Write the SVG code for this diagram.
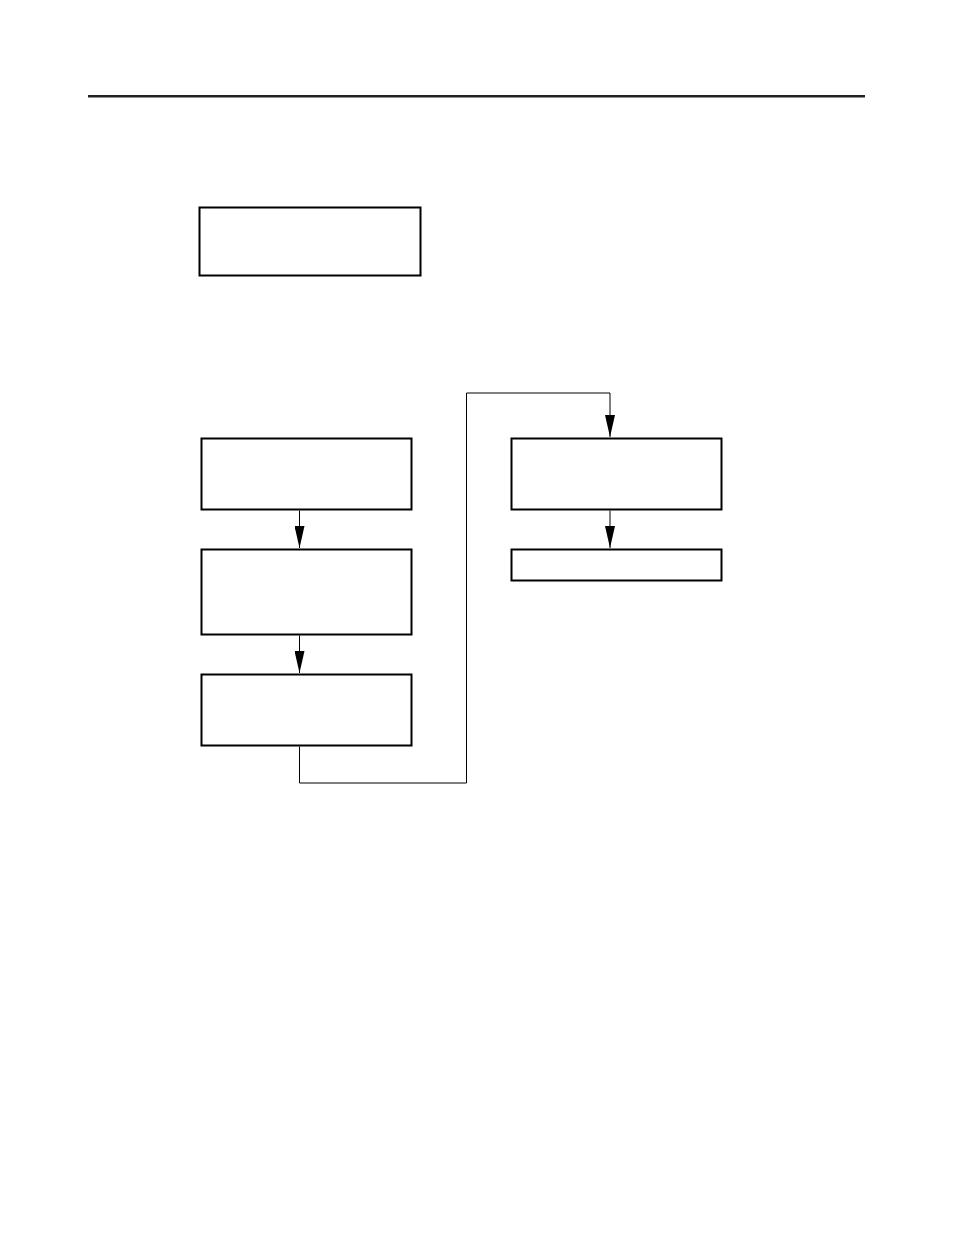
<svg xmlns="http://www.w3.org/2000/svg" width="954" height="1235" viewBox="0 0 954 1235">
<style>
.node{fill:#fff;stroke:#000;stroke-width:2}
.conn{fill:none;stroke:#000;stroke-width:1}
</style>
<defs>
<marker id="arr" markerWidth="22" markerHeight="10" refX="22" refY="5" orient="auto" markerUnits="userSpaceOnUse" viewBox="0 0 22 10">
<path d="M0,0 L22,5 L0,10 Z" fill="#000"/>
</marker>
</defs>
<rect width="954" height="1235" fill="#fff"/>
<line x1="88" y1="96.3" x2="865" y2="96.3" stroke="#222" stroke-width="2.6"/>
<g id="box0"><rect class="node" x="199.5" y="207.5" width="221" height="68"/></g>
<g id="box1"><rect class="node" x="201.5" y="438.5" width="210" height="71"/></g>
<g id="box2"><rect class="node" x="201.5" y="549.5" width="210" height="85"/></g>
<g id="box3"><rect class="node" x="201.5" y="674.5" width="210" height="71"/></g>
<g id="box4"><rect class="node" x="511.5" y="438.5" width="210" height="71"/></g>
<g id="box5"><rect class="node" x="511.5" y="549.5" width="210" height="31"/></g>
<g id="connectors">
<line class="conn" x1="299.5" y1="510.5" x2="299.5" y2="548" marker-end="url(#arr)"/>
<line class="conn" x1="299.5" y1="635.5" x2="299.5" y2="673" marker-end="url(#arr)"/>
<polyline class="conn" points="299.5,746.5 299.5,783 466.5,783 466.5,393 610,393 610,437" marker-end="url(#arr)"/>
<line class="conn" x1="610" y1="510.5" x2="610" y2="548" marker-end="url(#arr)"/>
</g>
</svg>
